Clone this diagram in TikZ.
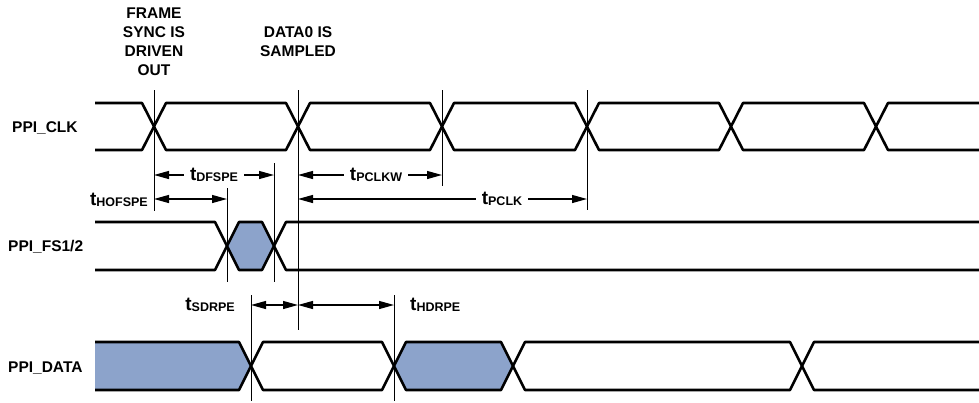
\documentclass[tikz,border=0pt]{standalone}
\usepackage{fontspec}
\setmainfont{Liberation Sans}
\usetikzlibrary{calc}
\usetikzlibrary{arrows.meta}
\usetikzlibrary{positioning}
\definecolor{busblue}{RGB}{140,163,203}
\newcommand{\tsub}[1]{{\fontsize{19}{19}\selectfont t}\raisebox{-1pt}{\fontsize{12.5}{12.5}\selectfont #1}}

\begin{document}
\begin{tikzpicture}[x=1pt,y=-1pt,
      sig/.style={line width=2.6pt, line join=round},
      guide/.style={line width=0.8pt},
      dim/.style={line width=1.2pt, {Triangle[length=15pt,width=8pt]}-{Triangle[length=15pt,width=8pt]}},
      lbl/.style={font=\fontsize{15.5}{19}\selectfont\bfseries, inner sep=0pt},
      tlbl/.style={font=\bfseries, inner sep=0pt},
      tmid/.style={font=\bfseries, fill=white, inner xsep=6pt, inner ysep=2pt}]
    \useasboundingbox (0,0) rectangle (979,402);

    % PPI_CLK
    \draw[sig] (95,103) -- (142,103) -- (154,126.5) -- (142,150) -- (95,150);
    \foreach \a/\b in {154/298,298/442,442/587,587/731,731/876}
      \draw[sig] (\a,126.5) -- (\a+12,103) -- (\b-12,103) -- (\b,126.5) -- (\b-12,150) -- (\a+12,150) -- cycle;
    \draw[sig] (979,103) -- (888,103) -- (876,126.5) -- (888,150) -- (979,150);

    % PPI_FS1/2
    \draw[sig] (95,222) -- (215,222) -- (227,246) -- (215,270) -- (95,270);
    \draw[sig, fill=busblue] (227,246) -- (239,222) -- (262,222) -- (274,246) -- (262,270) -- (239,270) -- cycle;
    \draw[sig] (979,222) -- (286,222) -- (274,246) -- (286,270) -- (979,270);

    % PPI_DATA
    \draw[sig, fill=busblue] (95,342) -- (239,342) -- (251,366) -- (239,390) -- (95,390);
    \draw[sig] (251,366) -- (263,342) -- (382,342) -- (394,366) -- (382,390) -- (263,390) -- cycle;
    \draw[sig, fill=busblue] (394,366) -- (406,342) -- (501,342) -- (513,366) -- (501,390) -- (406,390) -- cycle;
    \draw[sig] (513,366) -- (525,342) -- (790,342) -- (802,366) -- (790,390) -- (525,390) -- cycle;
    \draw[sig] (979,342) -- (814,342) -- (802,366) -- (814,390) -- (979,390);

    % guide lines
    \coordinate (gA) at (154,0);
    \coordinate (gB) at (298,0);
    \coordinate (gC) at (442,0);
    \coordinate (gD) at (587,0);
    \coordinate (gE) at (274,0);
    \coordinate (gF) at (227,0);
    \coordinate (gG) at (251,0);
    \coordinate (gH) at (394,0);
    \draw[guide] (gA |- 0,90) -- (gA |- 0,211);
    \draw[guide] (gB |- 0,90) -- (gB |- 0,330);
    \draw[guide] (gC |- 0,90) -- (gC |- 0,186);
    \draw[guide] (gD |- 0,90) -- (gD |- 0,210);
    \draw[guide] (gE |- 0,163) -- (gE |- 0,282);
    \draw[guide] (gF |- 0,188) -- (gF |- 0,282);
    \draw[guide] (gG |- 0,295) -- (gG |- 0,401);
    \draw[guide] (gH |- 0,295) -- (gH |- 0,401);

    % timing arrows
    \coordinate (rowa) at (0,175);
    \coordinate (rowb) at (0,199);
    \coordinate (rowc) at (0,305);
    \draw[dim] (gA |- rowa) -- (gE |- rowa);
    \draw[dim] (gB |- rowa) -- (gC |- rowa);
    \draw[dim] (gA |- rowb) -- (gF |- rowb);
    \draw[dim] (gB |- rowb) -- (gD |- rowb);
    \draw[dim] (gG |- rowc) -- (gB |- rowc);
    \draw[dim] (gB |- rowc) -- (gH |- rowc);

    \node[tmid, anchor=base] (dfspe) at (214,180) {\tsub{DFSPE}};
    \node[tmid, anchor=base] (pclkw) at (376,180) {\tsub{PCLKW}};
    \node[tlbl, anchor=base east] (hofspe) at (148,205) {\tsub{HOFSPE}};
    \node[tmid, anchor=base] (pclk) at (502,204) {\tsub{PCLK}};
    \node[tlbl, anchor=base east] (sdrpe) at (235,310.5) {\tsub{SDRPE}};
    \node[tlbl, anchor=base west] (hdrpe) at (410,310.5) {\tsub{HDRPE}};

    % signal names
    \node[lbl, anchor=base west] (clk) at (12,132.5) {PPI\_CLK};
    \node[lbl, anchor=base west] (fs) at (8,251.7) {PPI\_FS1/2};
    \node[lbl, anchor=base west] (data) at (8,372.7) {PPI\_DATA};

    % notes
    \node[lbl, align=center, anchor=south, text depth=0pt] (fsout) at (154,76) {FRAME\\SYNC IS\\DRIVEN\\OUT};
    \node[lbl, align=center, anchor=south, text depth=0pt] (sampled) at (298,57) {DATA0 IS\\SAMPLED};
  \end{tikzpicture}
\end{document}
